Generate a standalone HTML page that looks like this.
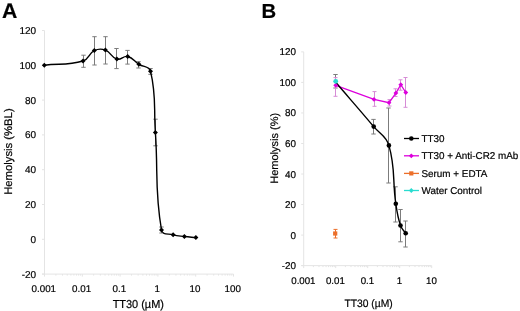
<!DOCTYPE html>
<html><head><meta charset="utf-8"><style>html,body{margin:0;padding:0;background:#fff;width:520px;height:311px;overflow:hidden}text{font-family:"Liberation Sans", sans-serif;text-rendering:geometricPrecision;stroke:currentColor;stroke-width:0.2px}</style></head>
<body><svg width="520" height="311" viewBox="0 0 520 311" style="display:block;will-change:transform"><text x="1.90" y="17.60" font-size="21.2" text-anchor="start" font-weight="bold" fill="#000" >A</text>
<line x1="44.50" y1="30.50" x2="44.50" y2="274.10" stroke="#e4e4e4" stroke-width="1"/>
<line x1="42.00" y1="274.10" x2="233.50" y2="274.10" stroke="#e4e4e4" stroke-width="1"/>
<line x1="42.00" y1="274.10" x2="44.50" y2="274.10" stroke="#e4e4e4" stroke-width="1"/>
<text x="36.10" y="277.60" font-size="10" text-anchor="end" font-weight="normal" fill="#000" >-20</text>
<line x1="42.00" y1="239.30" x2="44.50" y2="239.30" stroke="#e4e4e4" stroke-width="1"/>
<text x="36.10" y="242.80" font-size="10" text-anchor="end" font-weight="normal" fill="#000" >0</text>
<line x1="42.00" y1="204.50" x2="44.50" y2="204.50" stroke="#e4e4e4" stroke-width="1"/>
<text x="36.10" y="208.00" font-size="10" text-anchor="end" font-weight="normal" fill="#000" >20</text>
<line x1="42.00" y1="169.70" x2="44.50" y2="169.70" stroke="#e4e4e4" stroke-width="1"/>
<text x="36.10" y="173.20" font-size="10" text-anchor="end" font-weight="normal" fill="#000" >40</text>
<line x1="42.00" y1="134.90" x2="44.50" y2="134.90" stroke="#e4e4e4" stroke-width="1"/>
<text x="36.10" y="138.40" font-size="10" text-anchor="end" font-weight="normal" fill="#000" >60</text>
<line x1="42.00" y1="100.10" x2="44.50" y2="100.10" stroke="#e4e4e4" stroke-width="1"/>
<text x="36.10" y="103.60" font-size="10" text-anchor="end" font-weight="normal" fill="#000" >80</text>
<line x1="42.00" y1="65.30" x2="44.50" y2="65.30" stroke="#e4e4e4" stroke-width="1"/>
<text x="36.10" y="68.80" font-size="10" text-anchor="end" font-weight="normal" fill="#000" >100</text>
<line x1="42.00" y1="30.50" x2="44.50" y2="30.50" stroke="#e4e4e4" stroke-width="1"/>
<text x="36.10" y="34.00" font-size="10" text-anchor="end" font-weight="normal" fill="#000" >120</text>
<line x1="44.50" y1="274.10" x2="44.50" y2="276.60" stroke="#e4e4e4" stroke-width="1"/>
<line x1="55.88" y1="274.10" x2="55.88" y2="275.60" stroke="#e4e4e4" stroke-width="1"/>
<line x1="62.54" y1="274.10" x2="62.54" y2="275.60" stroke="#e4e4e4" stroke-width="1"/>
<line x1="67.26" y1="274.10" x2="67.26" y2="275.60" stroke="#e4e4e4" stroke-width="1"/>
<line x1="70.92" y1="274.10" x2="70.92" y2="275.60" stroke="#e4e4e4" stroke-width="1"/>
<line x1="73.91" y1="274.10" x2="73.91" y2="275.60" stroke="#e4e4e4" stroke-width="1"/>
<line x1="76.44" y1="274.10" x2="76.44" y2="275.60" stroke="#e4e4e4" stroke-width="1"/>
<line x1="78.64" y1="274.10" x2="78.64" y2="275.60" stroke="#e4e4e4" stroke-width="1"/>
<line x1="80.57" y1="274.10" x2="80.57" y2="275.60" stroke="#e4e4e4" stroke-width="1"/>
<text x="43.80" y="292.30" font-size="9.8" text-anchor="middle" font-weight="normal" fill="#000" >0.001</text>
<line x1="82.30" y1="274.10" x2="82.30" y2="276.60" stroke="#e4e4e4" stroke-width="1"/>
<line x1="93.68" y1="274.10" x2="93.68" y2="275.60" stroke="#e4e4e4" stroke-width="1"/>
<line x1="100.34" y1="274.10" x2="100.34" y2="275.60" stroke="#e4e4e4" stroke-width="1"/>
<line x1="105.06" y1="274.10" x2="105.06" y2="275.60" stroke="#e4e4e4" stroke-width="1"/>
<line x1="108.72" y1="274.10" x2="108.72" y2="275.60" stroke="#e4e4e4" stroke-width="1"/>
<line x1="111.71" y1="274.10" x2="111.71" y2="275.60" stroke="#e4e4e4" stroke-width="1"/>
<line x1="114.24" y1="274.10" x2="114.24" y2="275.60" stroke="#e4e4e4" stroke-width="1"/>
<line x1="116.44" y1="274.10" x2="116.44" y2="275.60" stroke="#e4e4e4" stroke-width="1"/>
<line x1="118.37" y1="274.10" x2="118.37" y2="275.60" stroke="#e4e4e4" stroke-width="1"/>
<text x="81.60" y="292.30" font-size="9.8" text-anchor="middle" font-weight="normal" fill="#000" >0.01</text>
<line x1="120.10" y1="274.10" x2="120.10" y2="276.60" stroke="#e4e4e4" stroke-width="1"/>
<line x1="131.48" y1="274.10" x2="131.48" y2="275.60" stroke="#e4e4e4" stroke-width="1"/>
<line x1="138.14" y1="274.10" x2="138.14" y2="275.60" stroke="#e4e4e4" stroke-width="1"/>
<line x1="142.86" y1="274.10" x2="142.86" y2="275.60" stroke="#e4e4e4" stroke-width="1"/>
<line x1="146.52" y1="274.10" x2="146.52" y2="275.60" stroke="#e4e4e4" stroke-width="1"/>
<line x1="149.51" y1="274.10" x2="149.51" y2="275.60" stroke="#e4e4e4" stroke-width="1"/>
<line x1="152.04" y1="274.10" x2="152.04" y2="275.60" stroke="#e4e4e4" stroke-width="1"/>
<line x1="154.24" y1="274.10" x2="154.24" y2="275.60" stroke="#e4e4e4" stroke-width="1"/>
<line x1="156.17" y1="274.10" x2="156.17" y2="275.60" stroke="#e4e4e4" stroke-width="1"/>
<text x="119.40" y="292.30" font-size="9.8" text-anchor="middle" font-weight="normal" fill="#000" >0.1</text>
<line x1="157.90" y1="274.10" x2="157.90" y2="276.60" stroke="#e4e4e4" stroke-width="1"/>
<line x1="169.28" y1="274.10" x2="169.28" y2="275.60" stroke="#e4e4e4" stroke-width="1"/>
<line x1="175.94" y1="274.10" x2="175.94" y2="275.60" stroke="#e4e4e4" stroke-width="1"/>
<line x1="180.66" y1="274.10" x2="180.66" y2="275.60" stroke="#e4e4e4" stroke-width="1"/>
<line x1="184.32" y1="274.10" x2="184.32" y2="275.60" stroke="#e4e4e4" stroke-width="1"/>
<line x1="187.31" y1="274.10" x2="187.31" y2="275.60" stroke="#e4e4e4" stroke-width="1"/>
<line x1="189.84" y1="274.10" x2="189.84" y2="275.60" stroke="#e4e4e4" stroke-width="1"/>
<line x1="192.04" y1="274.10" x2="192.04" y2="275.60" stroke="#e4e4e4" stroke-width="1"/>
<line x1="193.97" y1="274.10" x2="193.97" y2="275.60" stroke="#e4e4e4" stroke-width="1"/>
<text x="157.20" y="292.30" font-size="9.8" text-anchor="middle" font-weight="normal" fill="#000" >1</text>
<line x1="195.70" y1="274.10" x2="195.70" y2="276.60" stroke="#e4e4e4" stroke-width="1"/>
<line x1="207.08" y1="274.10" x2="207.08" y2="275.60" stroke="#e4e4e4" stroke-width="1"/>
<line x1="213.74" y1="274.10" x2="213.74" y2="275.60" stroke="#e4e4e4" stroke-width="1"/>
<line x1="218.46" y1="274.10" x2="218.46" y2="275.60" stroke="#e4e4e4" stroke-width="1"/>
<line x1="222.12" y1="274.10" x2="222.12" y2="275.60" stroke="#e4e4e4" stroke-width="1"/>
<line x1="225.11" y1="274.10" x2="225.11" y2="275.60" stroke="#e4e4e4" stroke-width="1"/>
<line x1="227.64" y1="274.10" x2="227.64" y2="275.60" stroke="#e4e4e4" stroke-width="1"/>
<line x1="229.84" y1="274.10" x2="229.84" y2="275.60" stroke="#e4e4e4" stroke-width="1"/>
<line x1="231.77" y1="274.10" x2="231.77" y2="275.60" stroke="#e4e4e4" stroke-width="1"/>
<text x="195.00" y="292.30" font-size="9.8" text-anchor="middle" font-weight="normal" fill="#000" >10</text>
<line x1="233.50" y1="274.10" x2="233.50" y2="276.60" stroke="#e4e4e4" stroke-width="1"/>
<text x="232.80" y="292.30" font-size="9.8" text-anchor="middle" font-weight="normal" fill="#000" >100</text>
<text x="138.30" y="307.60" font-size="11.5" text-anchor="middle" font-weight="normal" fill="#000" textLength="51.3" lengthAdjust="spacingAndGlyphs">TT30 (µM)</text>
<text x="0.00" y="0.00" font-size="11.1" text-anchor="middle" font-weight="normal" fill="#000" textLength="86.5" lengthAdjust="spacingAndGlyphs" transform="translate(12.1,151.6) rotate(-90)">Hemolysis (%BL)</text>
<line x1="83.50" y1="55.20" x2="83.50" y2="67.30" stroke="#7c7c7c" stroke-width="1"/>
<line x1="81.30" y1="55.20" x2="85.70" y2="55.20" stroke="#7c7c7c" stroke-width="1"/>
<line x1="81.30" y1="67.30" x2="85.70" y2="67.30" stroke="#7c7c7c" stroke-width="1"/>
<line x1="94.50" y1="36.70" x2="94.50" y2="65.00" stroke="#7c7c7c" stroke-width="1"/>
<line x1="92.30" y1="36.70" x2="96.70" y2="36.70" stroke="#7c7c7c" stroke-width="1"/>
<line x1="92.30" y1="65.00" x2="96.70" y2="65.00" stroke="#7c7c7c" stroke-width="1"/>
<line x1="105.50" y1="36.70" x2="105.50" y2="64.00" stroke="#7c7c7c" stroke-width="1"/>
<line x1="103.30" y1="36.70" x2="107.70" y2="36.70" stroke="#7c7c7c" stroke-width="1"/>
<line x1="103.30" y1="64.00" x2="107.70" y2="64.00" stroke="#7c7c7c" stroke-width="1"/>
<line x1="116.50" y1="48.50" x2="116.50" y2="68.60" stroke="#7c7c7c" stroke-width="1"/>
<line x1="114.30" y1="48.50" x2="118.70" y2="48.50" stroke="#7c7c7c" stroke-width="1"/>
<line x1="114.30" y1="68.60" x2="118.70" y2="68.60" stroke="#7c7c7c" stroke-width="1"/>
<line x1="127.50" y1="50.40" x2="127.50" y2="64.10" stroke="#7c7c7c" stroke-width="1"/>
<line x1="125.30" y1="50.40" x2="129.70" y2="50.40" stroke="#7c7c7c" stroke-width="1"/>
<line x1="125.30" y1="64.10" x2="129.70" y2="64.10" stroke="#7c7c7c" stroke-width="1"/>
<line x1="138.50" y1="61.70" x2="138.50" y2="68.00" stroke="#7c7c7c" stroke-width="1"/>
<line x1="136.30" y1="61.70" x2="140.70" y2="61.70" stroke="#7c7c7c" stroke-width="1"/>
<line x1="136.30" y1="68.00" x2="140.70" y2="68.00" stroke="#7c7c7c" stroke-width="1"/>
<line x1="150.50" y1="68.50" x2="150.50" y2="74.30" stroke="#7c7c7c" stroke-width="1"/>
<line x1="148.30" y1="68.50" x2="152.70" y2="68.50" stroke="#7c7c7c" stroke-width="1"/>
<line x1="148.30" y1="74.30" x2="152.70" y2="74.30" stroke="#7c7c7c" stroke-width="1"/>
<line x1="155.50" y1="119.20" x2="155.50" y2="145.80" stroke="#7c7c7c" stroke-width="1"/>
<line x1="153.30" y1="119.20" x2="157.70" y2="119.20" stroke="#7c7c7c" stroke-width="1"/>
<line x1="153.30" y1="145.80" x2="157.70" y2="145.80" stroke="#7c7c7c" stroke-width="1"/>
<line x1="161.50" y1="227.00" x2="161.50" y2="233.00" stroke="#7c7c7c" stroke-width="1"/>
<line x1="159.30" y1="227.00" x2="163.70" y2="227.00" stroke="#7c7c7c" stroke-width="1"/>
<line x1="159.30" y1="233.00" x2="163.70" y2="233.00" stroke="#7c7c7c" stroke-width="1"/>
<path d="M44.30,65.20 C60.55,63.44 67.31,65.58 83.00,61.00 C89.19,59.19 88.50,53.42 94.30,50.60 C98.50,48.56 101.03,48.46 105.40,50.10 C111.14,52.26 111.00,57.41 116.90,59.10 C121.38,60.39 123.16,55.43 127.70,56.50 C133.28,57.82 134.08,61.19 138.90,64.30 C143.66,67.37 149.17,65.69 150.50,71.20 C156.57,96.35 153.61,106.79 155.40,132.60 C158.23,173.49 154.51,189.61 161.50,230.00 C162.40,235.20 168.03,233.36 173.10,234.80 C177.72,236.11 179.64,235.91 184.40,236.50 C189.22,237.09 191.07,237.14 195.90,237.60" fill="none" stroke="#000" stroke-width="1.4"/>
<path d="M44.3,62.7 L46.8,65.2 L44.3,67.7 L41.8,65.2 Z" fill="#000"/>
<path d="M83.0,58.5 L85.5,61.0 L83.0,63.5 L80.5,61.0 Z" fill="#000"/>
<path d="M94.3,48.1 L96.8,50.6 L94.3,53.1 L91.8,50.6 Z" fill="#000"/>
<path d="M105.4,47.6 L107.9,50.1 L105.4,52.6 L102.9,50.1 Z" fill="#000"/>
<path d="M116.9,56.6 L119.4,59.1 L116.9,61.6 L114.4,59.1 Z" fill="#000"/>
<path d="M127.7,54.0 L130.2,56.5 L127.7,59.0 L125.2,56.5 Z" fill="#000"/>
<path d="M138.9,61.8 L141.4,64.3 L138.9,66.8 L136.4,64.3 Z" fill="#000"/>
<path d="M150.5,68.7 L153.0,71.2 L150.5,73.7 L148.0,71.2 Z" fill="#000"/>
<path d="M155.4,130.1 L157.9,132.6 L155.4,135.1 L152.9,132.6 Z" fill="#000"/>
<path d="M161.5,227.5 L164.0,230 L161.5,232.5 L159.0,230 Z" fill="#000"/>
<path d="M173.1,232.3 L175.6,234.8 L173.1,237.3 L170.6,234.8 Z" fill="#000"/>
<path d="M184.4,234.0 L186.9,236.5 L184.4,239.0 L181.9,236.5 Z" fill="#000"/>
<path d="M195.9,235.1 L198.4,237.6 L195.9,240.1 L193.4,237.6 Z" fill="#000"/>
<text x="261.40" y="17.50" font-size="20.3" text-anchor="start" font-weight="bold" fill="#000" >B</text>
<line x1="303.70" y1="51.86" x2="303.70" y2="265.64" stroke="#e4e4e4" stroke-width="1"/>
<line x1="301.20" y1="265.64" x2="431.70" y2="265.64" stroke="#e4e4e4" stroke-width="1"/>
<line x1="301.20" y1="265.64" x2="303.70" y2="265.64" stroke="#e4e4e4" stroke-width="1"/>
<text x="296.00" y="269.14" font-size="9.9" text-anchor="end" font-weight="normal" fill="#000" >-20</text>
<line x1="301.20" y1="235.10" x2="303.70" y2="235.10" stroke="#e4e4e4" stroke-width="1"/>
<text x="296.00" y="238.60" font-size="9.9" text-anchor="end" font-weight="normal" fill="#000" >0</text>
<line x1="301.20" y1="204.56" x2="303.70" y2="204.56" stroke="#e4e4e4" stroke-width="1"/>
<text x="296.00" y="208.06" font-size="9.9" text-anchor="end" font-weight="normal" fill="#000" >20</text>
<line x1="301.20" y1="174.02" x2="303.70" y2="174.02" stroke="#e4e4e4" stroke-width="1"/>
<text x="296.00" y="177.52" font-size="9.9" text-anchor="end" font-weight="normal" fill="#000" >40</text>
<line x1="301.20" y1="143.48" x2="303.70" y2="143.48" stroke="#e4e4e4" stroke-width="1"/>
<text x="296.00" y="146.98" font-size="9.9" text-anchor="end" font-weight="normal" fill="#000" >60</text>
<line x1="301.20" y1="112.94" x2="303.70" y2="112.94" stroke="#e4e4e4" stroke-width="1"/>
<text x="296.00" y="116.44" font-size="9.9" text-anchor="end" font-weight="normal" fill="#000" >80</text>
<line x1="301.20" y1="82.40" x2="303.70" y2="82.40" stroke="#e4e4e4" stroke-width="1"/>
<text x="296.00" y="85.90" font-size="9.9" text-anchor="end" font-weight="normal" fill="#000" >100</text>
<line x1="301.20" y1="51.86" x2="303.70" y2="51.86" stroke="#e4e4e4" stroke-width="1"/>
<text x="296.00" y="55.36" font-size="9.9" text-anchor="end" font-weight="normal" fill="#000" >120</text>
<line x1="303.70" y1="265.64" x2="303.70" y2="268.14" stroke="#e4e4e4" stroke-width="1"/>
<line x1="313.33" y1="265.64" x2="313.33" y2="267.14" stroke="#e4e4e4" stroke-width="1"/>
<line x1="318.97" y1="265.64" x2="318.97" y2="267.14" stroke="#e4e4e4" stroke-width="1"/>
<line x1="322.97" y1="265.64" x2="322.97" y2="267.14" stroke="#e4e4e4" stroke-width="1"/>
<line x1="326.07" y1="265.64" x2="326.07" y2="267.14" stroke="#e4e4e4" stroke-width="1"/>
<line x1="328.60" y1="265.64" x2="328.60" y2="267.14" stroke="#e4e4e4" stroke-width="1"/>
<line x1="330.74" y1="265.64" x2="330.74" y2="267.14" stroke="#e4e4e4" stroke-width="1"/>
<line x1="332.60" y1="265.64" x2="332.60" y2="267.14" stroke="#e4e4e4" stroke-width="1"/>
<line x1="334.24" y1="265.64" x2="334.24" y2="267.14" stroke="#e4e4e4" stroke-width="1"/>
<text x="303.40" y="284.00" font-size="9.7" text-anchor="middle" font-weight="normal" fill="#000" >0.001</text>
<line x1="335.70" y1="265.64" x2="335.70" y2="268.14" stroke="#e4e4e4" stroke-width="1"/>
<line x1="345.33" y1="265.64" x2="345.33" y2="267.14" stroke="#e4e4e4" stroke-width="1"/>
<line x1="350.97" y1="265.64" x2="350.97" y2="267.14" stroke="#e4e4e4" stroke-width="1"/>
<line x1="354.97" y1="265.64" x2="354.97" y2="267.14" stroke="#e4e4e4" stroke-width="1"/>
<line x1="358.07" y1="265.64" x2="358.07" y2="267.14" stroke="#e4e4e4" stroke-width="1"/>
<line x1="360.60" y1="265.64" x2="360.60" y2="267.14" stroke="#e4e4e4" stroke-width="1"/>
<line x1="362.74" y1="265.64" x2="362.74" y2="267.14" stroke="#e4e4e4" stroke-width="1"/>
<line x1="364.60" y1="265.64" x2="364.60" y2="267.14" stroke="#e4e4e4" stroke-width="1"/>
<line x1="366.24" y1="265.64" x2="366.24" y2="267.14" stroke="#e4e4e4" stroke-width="1"/>
<text x="335.40" y="284.00" font-size="9.7" text-anchor="middle" font-weight="normal" fill="#000" >0.01</text>
<line x1="367.70" y1="265.64" x2="367.70" y2="268.14" stroke="#e4e4e4" stroke-width="1"/>
<line x1="377.33" y1="265.64" x2="377.33" y2="267.14" stroke="#e4e4e4" stroke-width="1"/>
<line x1="382.97" y1="265.64" x2="382.97" y2="267.14" stroke="#e4e4e4" stroke-width="1"/>
<line x1="386.97" y1="265.64" x2="386.97" y2="267.14" stroke="#e4e4e4" stroke-width="1"/>
<line x1="390.07" y1="265.64" x2="390.07" y2="267.14" stroke="#e4e4e4" stroke-width="1"/>
<line x1="392.60" y1="265.64" x2="392.60" y2="267.14" stroke="#e4e4e4" stroke-width="1"/>
<line x1="394.74" y1="265.64" x2="394.74" y2="267.14" stroke="#e4e4e4" stroke-width="1"/>
<line x1="396.60" y1="265.64" x2="396.60" y2="267.14" stroke="#e4e4e4" stroke-width="1"/>
<line x1="398.24" y1="265.64" x2="398.24" y2="267.14" stroke="#e4e4e4" stroke-width="1"/>
<text x="367.40" y="284.00" font-size="9.7" text-anchor="middle" font-weight="normal" fill="#000" >0.1</text>
<line x1="399.70" y1="265.64" x2="399.70" y2="268.14" stroke="#e4e4e4" stroke-width="1"/>
<line x1="409.33" y1="265.64" x2="409.33" y2="267.14" stroke="#e4e4e4" stroke-width="1"/>
<line x1="414.97" y1="265.64" x2="414.97" y2="267.14" stroke="#e4e4e4" stroke-width="1"/>
<line x1="418.97" y1="265.64" x2="418.97" y2="267.14" stroke="#e4e4e4" stroke-width="1"/>
<line x1="422.07" y1="265.64" x2="422.07" y2="267.14" stroke="#e4e4e4" stroke-width="1"/>
<line x1="424.60" y1="265.64" x2="424.60" y2="267.14" stroke="#e4e4e4" stroke-width="1"/>
<line x1="426.74" y1="265.64" x2="426.74" y2="267.14" stroke="#e4e4e4" stroke-width="1"/>
<line x1="428.60" y1="265.64" x2="428.60" y2="267.14" stroke="#e4e4e4" stroke-width="1"/>
<line x1="430.24" y1="265.64" x2="430.24" y2="267.14" stroke="#e4e4e4" stroke-width="1"/>
<text x="399.40" y="284.00" font-size="9.7" text-anchor="middle" font-weight="normal" fill="#000" >1</text>
<line x1="431.70" y1="265.64" x2="431.70" y2="268.14" stroke="#e4e4e4" stroke-width="1"/>
<text x="431.40" y="284.00" font-size="9.7" text-anchor="middle" font-weight="normal" fill="#000" >10</text>
<text x="368.60" y="306.90" font-size="10.8" text-anchor="middle" font-weight="normal" fill="#000" textLength="48.3" lengthAdjust="spacingAndGlyphs">TT30 (µM)</text>
<text x="0.00" y="0.00" font-size="10.8" text-anchor="middle" font-weight="normal" fill="#000" textLength="71" lengthAdjust="spacingAndGlyphs" transform="translate(278.3,148.3) rotate(-90)">Hemolysis (%)</text>
<line x1="335.50" y1="74.50" x2="335.50" y2="88.00" stroke="#7c7c7c" stroke-width="1"/>
<line x1="333.30" y1="74.50" x2="337.70" y2="74.50" stroke="#7c7c7c" stroke-width="1"/>
<line x1="333.30" y1="88.00" x2="337.70" y2="88.00" stroke="#7c7c7c" stroke-width="1"/>
<line x1="373.50" y1="119.40" x2="373.50" y2="134.00" stroke="#7c7c7c" stroke-width="1"/>
<line x1="371.30" y1="119.40" x2="375.70" y2="119.40" stroke="#7c7c7c" stroke-width="1"/>
<line x1="371.30" y1="134.00" x2="375.70" y2="134.00" stroke="#7c7c7c" stroke-width="1"/>
<line x1="388.50" y1="108.00" x2="388.50" y2="183.00" stroke="#7c7c7c" stroke-width="1"/>
<line x1="386.30" y1="108.00" x2="390.70" y2="108.00" stroke="#7c7c7c" stroke-width="1"/>
<line x1="386.30" y1="183.00" x2="390.70" y2="183.00" stroke="#7c7c7c" stroke-width="1"/>
<line x1="395.50" y1="186.80" x2="395.50" y2="222.00" stroke="#7c7c7c" stroke-width="1"/>
<line x1="393.30" y1="186.80" x2="397.70" y2="186.80" stroke="#7c7c7c" stroke-width="1"/>
<line x1="393.30" y1="222.00" x2="397.70" y2="222.00" stroke="#7c7c7c" stroke-width="1"/>
<line x1="400.50" y1="209.50" x2="400.50" y2="241.80" stroke="#7c7c7c" stroke-width="1"/>
<line x1="398.30" y1="209.50" x2="402.70" y2="209.50" stroke="#7c7c7c" stroke-width="1"/>
<line x1="398.30" y1="241.80" x2="402.70" y2="241.80" stroke="#7c7c7c" stroke-width="1"/>
<line x1="405.50" y1="221.00" x2="405.50" y2="247.00" stroke="#7c7c7c" stroke-width="1"/>
<line x1="403.30" y1="221.00" x2="407.70" y2="221.00" stroke="#7c7c7c" stroke-width="1"/>
<line x1="403.30" y1="247.00" x2="407.70" y2="247.00" stroke="#7c7c7c" stroke-width="1"/>
<line x1="335.50" y1="77.60" x2="335.50" y2="96.30" stroke="#d68cd6" stroke-width="1"/>
<line x1="333.50" y1="77.60" x2="337.50" y2="77.60" stroke="#d68cd6" stroke-width="1"/>
<line x1="333.50" y1="96.30" x2="337.50" y2="96.30" stroke="#d68cd6" stroke-width="1"/>
<line x1="374.50" y1="91.60" x2="374.50" y2="106.30" stroke="#d68cd6" stroke-width="1"/>
<line x1="372.50" y1="91.60" x2="376.50" y2="91.60" stroke="#d68cd6" stroke-width="1"/>
<line x1="372.50" y1="106.30" x2="376.50" y2="106.30" stroke="#d68cd6" stroke-width="1"/>
<line x1="389.50" y1="99.60" x2="389.50" y2="106.00" stroke="#d68cd6" stroke-width="1"/>
<line x1="387.50" y1="99.60" x2="391.50" y2="99.60" stroke="#d68cd6" stroke-width="1"/>
<line x1="387.50" y1="106.00" x2="391.50" y2="106.00" stroke="#d68cd6" stroke-width="1"/>
<line x1="395.50" y1="88.80" x2="395.50" y2="96.50" stroke="#d68cd6" stroke-width="1"/>
<line x1="393.50" y1="88.80" x2="397.50" y2="88.80" stroke="#d68cd6" stroke-width="1"/>
<line x1="393.50" y1="96.50" x2="397.50" y2="96.50" stroke="#d68cd6" stroke-width="1"/>
<line x1="400.50" y1="79.80" x2="400.50" y2="90.20" stroke="#d68cd6" stroke-width="1"/>
<line x1="398.50" y1="79.80" x2="402.50" y2="79.80" stroke="#d68cd6" stroke-width="1"/>
<line x1="398.50" y1="90.20" x2="402.50" y2="90.20" stroke="#d68cd6" stroke-width="1"/>
<line x1="405.50" y1="77.50" x2="405.50" y2="107.30" stroke="#d68cd6" stroke-width="1"/>
<line x1="403.50" y1="77.50" x2="407.50" y2="77.50" stroke="#d68cd6" stroke-width="1"/>
<line x1="403.50" y1="107.30" x2="407.50" y2="107.30" stroke="#d68cd6" stroke-width="1"/>
<line x1="335.50" y1="229.40" x2="335.50" y2="238.00" stroke="#ec6f2a" stroke-width="1"/>
<line x1="333.50" y1="229.40" x2="337.50" y2="229.40" stroke="#ec6f2a" stroke-width="1"/>
<line x1="333.50" y1="238.00" x2="337.50" y2="238.00" stroke="#ec6f2a" stroke-width="1"/>
<path d="M335.70,85.30 L374.00,99.40 L389.00,102.70 L395.90,93.10 L400.80,84.70 L405.80,92.50" fill="none" stroke="#dc00dc" stroke-width="1.3"/>
<path d="M335.70,82.30 C351.66,100.91 357.90,107.86 373.70,126.60 C380.25,134.36 386.10,135.64 388.90,145.40 C395.69,169.10 392.27,179.30 395.80,203.70 C397.14,212.97 397.53,216.62 400.50,225.50 C401.75,229.23 403.52,230.02 405.70,233.30" fill="none" stroke="#000" stroke-width="1.4"/>
<path d="M335.7,82.89999999999999 L338.09999999999997,85.3 L335.7,87.7 L333.3,85.3 Z" fill="#dc00dc"/>
<path d="M374,97.0 L376.4,99.4 L374,101.80000000000001 L371.6,99.4 Z" fill="#dc00dc"/>
<path d="M389,100.3 L391.4,102.7 L389,105.10000000000001 L386.6,102.7 Z" fill="#dc00dc"/>
<path d="M395.9,90.69999999999999 L398.29999999999995,93.1 L395.9,95.5 L393.5,93.1 Z" fill="#dc00dc"/>
<path d="M400.8,82.3 L403.2,84.7 L400.8,87.10000000000001 L398.40000000000003,84.7 Z" fill="#dc00dc"/>
<path d="M405.8,90.1 L408.2,92.5 L405.8,94.9 L403.40000000000003,92.5 Z" fill="#dc00dc"/>
<circle cx="373.7" cy="126.6" r="2.3" fill="#000"/>
<circle cx="388.9" cy="145.4" r="2.3" fill="#000"/>
<circle cx="395.8" cy="203.7" r="2.3" fill="#000"/>
<circle cx="400.5" cy="225.5" r="2.3" fill="#000"/>
<circle cx="405.7" cy="233.3" r="2.3" fill="#000"/>
<rect x="333.09999999999997" y="231.4" width="4.2" height="4.2" fill="#ec6f2a"/>
<circle cx="335.7" cy="81.3" r="2.4" fill="#2adcd0"/>
<line x1="404.00" y1="138.50" x2="419.00" y2="138.50" stroke="#000" stroke-width="1.3"/>
<circle cx="411.3" cy="138.5" r="2.3" fill="#000"/>
<text x="421.50" y="141.80" font-size="9.9" text-anchor="start" font-weight="normal" fill="#000" >TT30</text>
<line x1="404.00" y1="155.80" x2="419.00" y2="155.80" stroke="#dc00dc" stroke-width="1.3"/>
<path d="M411.3,153.4 L413.7,155.8 L411.3,158.20000000000002 L408.90000000000003,155.8 Z" fill="#dc00dc"/>
<text x="421.50" y="159.10" font-size="9.9" text-anchor="start" font-weight="normal" fill="#000" >TT30 + Anti-CR2 mAb</text>
<line x1="404.00" y1="173.40" x2="419.00" y2="173.40" stroke="#ec6f2a" stroke-width="1.3"/>
<rect x="409.2" y="171.3" width="4.2" height="4.2" fill="#ec6f2a"/>
<text x="421.50" y="176.70" font-size="9.9" text-anchor="start" font-weight="normal" fill="#000" >Serum + EDTA</text>
<line x1="404.00" y1="190.50" x2="419.00" y2="190.50" stroke="#2adcd0" stroke-width="1.3"/>
<path d="M411.3,188.1 L413.7,190.5 L411.3,192.9 L408.90000000000003,190.5 Z" fill="#2adcd0"/>
<text x="421.50" y="193.80" font-size="9.9" text-anchor="start" font-weight="normal" fill="#000" >Water Control</text></svg></body></html>
